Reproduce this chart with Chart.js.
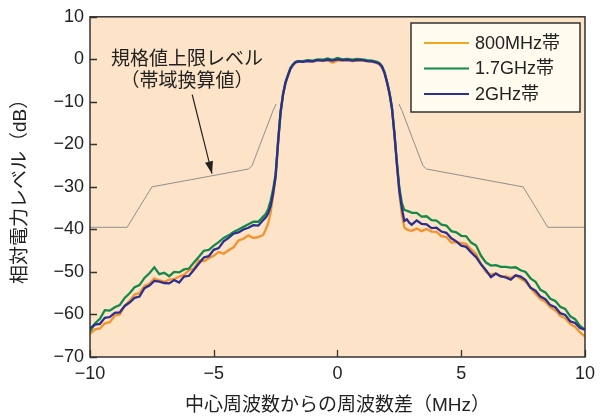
<!DOCTYPE html>
<html><head><meta charset="utf-8">
<script src="https://cdn.jsdelivr.net/npm/chart.js@4/dist/chart.umd.min.js"></script>
<style>html,body{margin:0;padding:0;background:#fff;}#wrap{width:601px;height:418px;}</style>
</head><body><div id="wrap"><canvas id="c" width="601" height="418"></canvas></div>
<script>
// Frequency offsets (MHz)
const freq = [
 -10.0,-9.8,-9.6,-9.4,-9.2,-9.0,-8.8,-8.6,-8.4,-8.2,-8.0,-7.8,-7.6,-7.4,-7.2,-7.0,-6.8,-6.6,-6.4,-6.2,-6.0,-5.8,-5.6,-5.4,-5.2,-5.0,-4.8,-4.6,-4.4,-4.2,-4.0,-3.8,-3.6,-3.4,-3.2,-3.0,
 -2.9,-2.8,-2.7,-2.6,-2.5,-2.4,-2.3,-2.2,-2.1,-2.0,-1.9,-1.8,-1.7,-1.6,
 -1.4,-1.2,-1.0,-0.8,-0.6,-0.4,-0.2,0.0,0.2,0.4,0.6,0.8,1.0,1.2,1.4,
 1.6,1.7,1.8,1.9,2.0,2.1,2.2,2.3,2.4,2.5,2.6,2.7,2.8,2.9,
 3.0,3.2,3.4,3.6,3.8,4.0,4.2,4.4,4.6,4.8,5.0,5.2,5.4,5.6,5.8,6.0,6.2,6.4,6.6,6.8,7.0,7.2,7.4,7.6,7.8,8.0,8.2,8.4,8.6,8.8,9.0,9.2,9.4,9.6,9.8,10.0
];
const band800 = [
 -64.6,-63.5,-63.3,-62.1,-61.8,-60.3,-60.0,-58.0,-56.8,-55.3,-55.0,-53.3,-52.8,-51.5,-52.0,-52.3,-51.8,-51.7,-51.1,-50.7,-49.6,-49.2,-47.3,-47.5,-46.8,-46.2,-45.3,-45.7,-44.9,-44.2,-42.6,-42.2,-41.4,-42.0,-41.8,-41.3,
 -40.0,-38.6,-36.0,-32.0,-27.8,-19.8,-12.6,-8.4,-5.6,-3.9,-2.3,-1.4,-0.8,-0.6,
 -0.5,-0.3,-0.6,-0.2,-0.4,-0.2,-0.8,-0.3,-0.3,-0.2,-0.4,-0.3,-0.3,-0.4,-0.6,
 -0.9,-1.2,-1.9,-3.3,-5.5,-8.1,-11.6,-17.8,-25.0,-31.5,-36.6,-39.5,-40.0,-40.2,
 -40.3,-39.8,-40.4,-39.9,-40.5,-40.6,-41.6,-41.8,-43.1,-43.0,-43.2,-43.4,-44.7,-45.7,-48.2,-50.0,-50.6,-50.3,-51.2,-51.0,-51.4,-50.8,-51.6,-52.3,-53.8,-55.1,-56.4,-57.0,-58.3,-59.0,-60.3,-60.9,-62.2,-62.9,-64.2,-65.2
];
const band17 = [
 -64.0,-62.1,-61.0,-59.0,-59.1,-58.3,-57.8,-56.1,-55.0,-53.6,-53.1,-51.4,-50.3,-48.9,-50.5,-50.2,-51.0,-50.0,-50.1,-49.4,-49.2,-47.8,-46.4,-45.0,-44.8,-43.8,-43.0,-42.0,-41.4,-40.6,-40.0,-39.4,-38.8,-38.2,-38.2,-37.0,
 -36.4,-35.2,-33.2,-30.5,-27.0,-19.2,-12.3,-8.1,-5.3,-3.6,-2.0,-1.2,-0.6,-0.4,
 -0.4,-0.2,-0.3,0.0,-0.1,0.2,-0.1,0.3,0.0,0.1,-0.1,0.1,0.0,-0.2,-0.3,
 -0.6,-0.9,-1.6,-3.0,-5.2,-7.8,-11.3,-17.3,-24.2,-30.2,-33.8,-35.4,-35.6,-35.8,
 -36.1,-36.1,-37.0,-36.9,-37.8,-37.9,-38.9,-39.1,-40.4,-40.7,-41.5,-41.6,-43.1,-43.8,-46.2,-47.8,-48.5,-48.4,-48.8,-48.8,-49.0,-48.9,-49.6,-50.0,-51.5,-52.3,-54.2,-54.8,-56.3,-56.8,-58.2,-58.7,-60.4,-61.1,-62.7,-63.6
];
const band2G = [
 -63.2,-62.4,-62.2,-60.8,-60.6,-59.6,-59.5,-58.0,-57.2,-56.1,-55.8,-53.8,-53.2,-52.1,-52.3,-52.6,-52.7,-51.9,-52.5,-51.1,-50.9,-49.5,-48.0,-46.6,-46.3,-44.8,-44.4,-42.8,-42.0,-41.0,-40.7,-40.0,-39.6,-39.0,-39.1,-37.8,
 -37.2,-36.2,-34.5,-31.5,-27.5,-19.5,-12.5,-8.3,-5.5,-3.8,-2.2,-1.3,-0.7,-0.5,
 -0.6,-0.4,-0.5,-0.2,-0.3,-0.1,-0.3,0.0,-0.2,-0.1,-0.3,-0.2,-0.2,-0.4,-0.5,
 -0.8,-1.1,-1.8,-3.2,-5.4,-8.0,-11.5,-17.5,-24.5,-31.0,-35.0,-38.0,-37.6,-38.4,
 -38.9,-37.9,-38.7,-38.8,-39.7,-39.6,-40.5,-40.8,-42.1,-42.8,-43.8,-44.1,-45.4,-46.5,-48.2,-49.6,-51.2,-50.4,-51.0,-51.3,-51.8,-50.8,-51.1,-51.9,-53.7,-54.4,-55.8,-56.4,-57.8,-58.3,-59.7,-60.1,-61.6,-62.0,-63.2,-63.6
];
// Spec limit mask (band converted)
const maskX = [-10,-8.5,-7.5,-3.6,-3.45,-2.6,-2.48,0,2.48,2.6,3.45,3.6,7.5,8.5,10];
const maskY = [-39.5,-39.5,-30,-25.8,-25,-12,-10.5,null,-10.5,-12,-25,-25.8,-30,-39.5,-39.5];
const seriesNames = ['800MHz帯','1.7GHz帯','2GHz帯'];
const xTicks = [-10,-5,0,5,10];
const yTicks = [10,0,-10,-20,-30,-40,-50,-60,-70];
const noteLines = ['規格値上限レベル','（帯域換算値）'];
const xTitle = '中心周波数からの周波数差（MHz）';
const yTitle = '相対電力レベル（dB）';

const colors = ['#f4922e','#138a4a','#2b2f8f'];
const legendColors = ['#f7a51e','#138a4a','#2b2f8f'];
const FONT = '"Liberation Sans", "Noto Sans CJK JP", sans-serif';
const toPts = (xs, ys) => xs.map((x,i)=>({x:x, y:ys[i]}));
const fmt = v => v < 0 ? '\u2212' + Math.abs(v) : String(v);

const deco = {
  id:'deco',
  beforeDraw(chart){
    const {ctx, chartArea:a} = chart;
    ctx.save(); ctx.fillStyle='#fde3c7'; ctx.fillRect(a.left,a.top,a.right-a.left,a.bottom-a.top); ctx.restore();
  },
  afterDraw(chart){
    const {ctx, chartArea:a, scales} = chart;
    const xs = scales.x, ys = scales.y;
    ctx.save();
    ctx.strokeStyle='#333'; ctx.lineWidth=1.3;
    ctx.beginPath();
    yTicks.forEach(v=>{const p=Math.round(ys.getPixelForValue(v))+0.5; ctx.moveTo(a.left,p); ctx.lineTo(a.left+7,p);});
    xTicks.forEach(v=>{const p=Math.round(xs.getPixelForValue(v))+0.5; ctx.moveTo(p,a.bottom); ctx.lineTo(p,a.bottom-7);});
    ctx.stroke();
    ctx.lineWidth=1.5;
    ctx.strokeRect(a.left,a.top,a.right-a.left,a.bottom-a.top);
    // annotation
    ctx.fillStyle='#222'; ctx.font='19px '+FONT; ctx.textAlign='center'; ctx.textBaseline='middle';
    ctx.fillText(noteLines[0], xs.getPixelForValue(-6.08), ys.getPixelForValue(-0.15));
    ctx.fillText(noteLines[1], xs.getPixelForValue(-6.08), ys.getPixelForValue(-5.2));
    const x0=xs.getPixelForValue(-5.87), y0=ys.getPixelForValue(-8.3);
    const x1=xs.getPixelForValue(-5.07), y1=ys.getPixelForValue(-26.9);
    ctx.strokeStyle='#222'; ctx.lineWidth=1.2;
    ctx.beginPath(); ctx.moveTo(x0,y0); ctx.lineTo(x1,y1); ctx.stroke();
    const ang=Math.atan2(y1-y0,x1-x0), L=13, W=0.32;
    ctx.beginPath(); ctx.moveTo(x1,y1);
    ctx.lineTo(x1-L*Math.cos(ang-W), y1-L*Math.sin(ang-W));
    ctx.lineTo(x1-L*Math.cos(ang+W), y1-L*Math.sin(ang+W));
    ctx.closePath(); ctx.fill();
    // legend box
    const bx=411, by=23, bw=169, bh=89;
    ctx.fillStyle='#fffbef'; ctx.fillRect(bx,by,bw,bh);
    ctx.strokeStyle='#333'; ctx.lineWidth=1.5; ctx.strokeRect(bx,by,bw,bh);
    ctx.font='18px '+FONT; ctx.textAlign='left'; ctx.textBaseline='middle';
    seriesNames.forEach((n,i)=>{
      const yy = by+20+i*25.5;
      ctx.strokeStyle=legendColors[i]; ctx.lineWidth=2;
      ctx.beginPath(); ctx.moveTo(bx+13,yy); ctx.lineTo(bx+58,yy); ctx.stroke();
      ctx.fillStyle='#222'; ctx.fillText(n, bx+64, yy+1);
    });
    ctx.restore();
  }
};

new Chart(document.getElementById('c'), {
  type:'line',
  data:{ datasets:[
    {label:'mask', data:toPts(maskX,maskY), borderColor:'#8f8f8f', borderWidth:1, pointRadius:0, spanGaps:false, order:4},
    {label:seriesNames[0], data:toPts(freq,band800), borderColor:colors[0], borderWidth:2.3, pointRadius:0, order:3},
    {label:seriesNames[1], data:toPts(freq,band17), borderColor:colors[1], borderWidth:2.3, pointRadius:0, order:2},
    {label:seriesNames[2], data:toPts(freq,band2G), borderColor:colors[2], borderWidth:2.3, pointRadius:0, order:1}
  ]},
  options:{
    responsive:false, animation:false, devicePixelRatio:1,
    layout:{padding:{top:13,right:11,left:0,bottom:0}},
    plugins:{legend:{display:false}, tooltip:{enabled:false}},
    elements:{line:{tension:0}},
    scales:{
      x:{type:'linear', min:-10, max:10,
        afterBuildTicks:s=>{s.ticks=xTicks.map(v=>({value:v}));},
        afterFit:s=>{s.height=61;},
        grid:{display:false, drawTicks:false}, border:{display:false},
        ticks:{padding:6, color:'#222', font:{size:18, family:FONT}, callback:fmt},
        title:{display:true, text:xTitle, color:'#222', font:{size:19, family:FONT}, padding:{top:0,bottom:1}}
      },
      y:{type:'linear', min:-70, max:10,
        afterBuildTicks:s=>{s.ticks=yTicks.map(v=>({value:v}));},
        afterFit:s=>{s.width=90;},
        grid:{display:false, drawTicks:false}, border:{display:false},
        ticks:{padding:6, color:'#222', font:{size:18, family:FONT}, callback:fmt},
        title:{display:true, text:yTitle, color:'#222', font:{size:19, family:FONT}, padding:{top:9,bottom:0}}
      }
    }
  },
  plugins:[deco]
});
</script></body></html>
